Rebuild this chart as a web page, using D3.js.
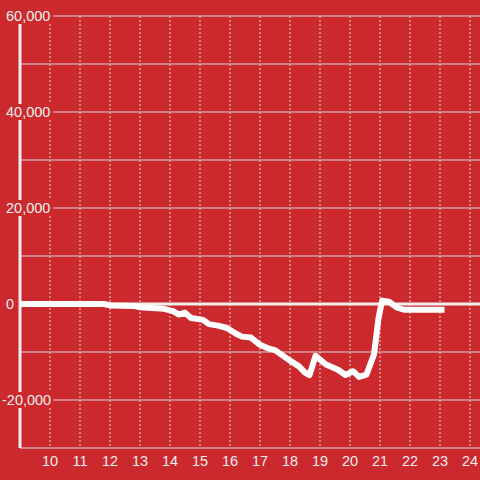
<!DOCTYPE html>
<html>
<head>
<meta charset="utf-8">
<script src="https://cdn.jsdelivr.net/npm/d3@7"></script>
<style>
html,body{margin:0;padding:0;background:#cc292e;}
svg{display:block;}
text{font-family:"Liberation Sans",Arial,sans-serif;}
</style>
</head>
<body>
<svg id="chart" width="480" height="480"></svg>
<script>
const hours = [9, 11.8, 12, 12.8, 13, 13.8, 14.1, 14.3, 14.5, 14.7, 14.9, 15.1, 15.3, 15.6, 15.9, 16.2, 16.4, 16.7, 17, 17.3, 17.5, 18, 18.3, 18.5, 18.65, 18.85, 19.2, 19.6, 19.85, 20.1, 20.3, 20.55, 20.8, 20.95, 21.07, 21.3, 21.55, 21.8, 23.15];
const values = [0, 0, -300, -400, -700, -1000, -1500, -2200, -1800, -2900, -3100, -3300, -4200, -4500, -5000, -6200, -6800, -7000, -8500, -9300, -9600, -11800, -13000, -14300, -14800, -10800, -12600, -13700, -14800, -14000, -15200, -14700, -10500, -3000, 700, 500, -700, -1200, -1200];
const xTicks = [10, 11, 12, 13, 14, 15, 16, 17, 18, 19, 20, 21, 22, 23, 24];
const yLabelTicks = [60000, 40000, 20000, 0, -20000];
const yGridTicks = [60000, 50000, 40000, 30000, 20000, 10000, -10000, -20000, -30000];

const W = 480, H = 480;
const bg = "#cc292e", fg = "#eeeeee", grid = "#d4d4d4";
const svg = d3.select("#chart");
svg.append("rect").attr("width", W).attr("height", H).attr("fill", bg);

const x = d3.scaleLinear().domain([9, 24 + 1/3]).range([20, 480]);
const y = d3.scaleLinear().domain([-30000, 60000]).range([448, 16]);

// horizontal grid
svg.append("g").selectAll("line").data(yGridTicks).join("line")
  .attr("x1", x(9)).attr("x2", W)
  .attr("y1", d => y(d)).attr("y2", d => y(d))
  .attr("stroke", grid).attr("stroke-width", 1);

// vertical dashed grid
svg.append("g").selectAll("line").data(xTicks).join("line")
  .attr("x1", d => x(d)).attr("x2", d => x(d))
  .attr("y1", y(60000)).attr("y2", y(-30000))
  .attr("stroke", grid).attr("stroke-width", 1)
  .attr("stroke-dasharray", "2,2");

// y axis line
svg.append("line").attr("x1", x(9)).attr("x2", x(9))
  .attr("y1", y(60000)).attr("y2", y(-30000))
  .attr("stroke", fg).attr("stroke-width", 3);

// zero line
svg.append("line").attr("x1", x(9)).attr("x2", W)
  .attr("y1", y(0)).attr("y2", y(0))
  .attr("stroke", fg).attr("stroke-width", 3);

// series
const data = hours.map((h, i) => ({h, v: values[i]}));
const line = d3.line().x(d => x(d.h)).y(d => y(d.v));
svg.append("path").datum(data).attr("d", line)
  .attr("fill", "none").attr("stroke", "#ffffff").attr("stroke-width", 6)
  .attr("stroke-linejoin", "round");

// y labels with background
const fmt = d3.format(",");
const yl = svg.append("g").selectAll("g").data(yLabelTicks).join("g")
  .attr("transform", d => `translate(0,${y(d)})`);
yl.filter(d => d !== 0).append("rect")
  .attr("x", 0).attr("y", -8).attr("width", 53).attr("height", 16).attr("fill", bg);
yl.append("text")
  .attr("x", d => d < 0 ? 2 : 6)
  .attr("dy", "0.35em")
  .attr("fill", fg).attr("font-size", 14.5)
  .text(d => fmt(d).replace("−", "-"));

// x labels
svg.append("g").selectAll("text").data(xTicks).join("text")
  .attr("x", d => x(d)).attr("y", 466)
  .attr("text-anchor", "middle")
  .attr("fill", fg).attr("font-size", 14.5)
  .text(d => d);
</script>
</body>
</html>
